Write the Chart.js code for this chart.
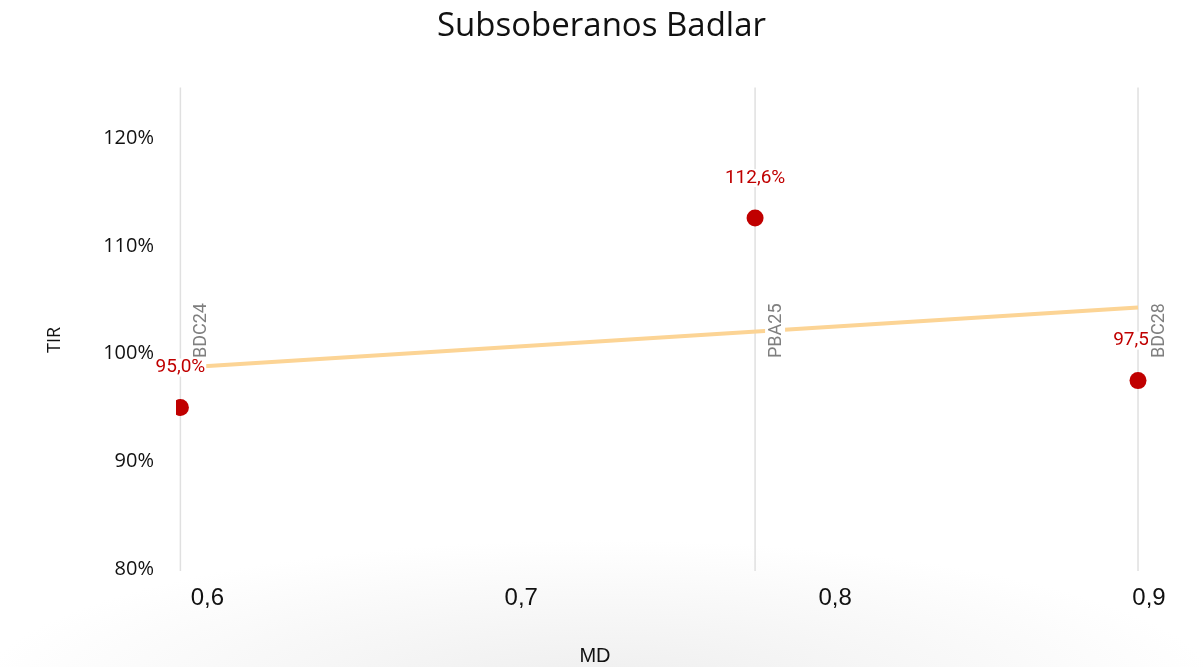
<!DOCTYPE html>
<html>
<head>
<meta charset="utf-8">
<title>Subsoberanos Badlar</title>
<script src="https://cdn.jsdelivr.net/npm/chart.js@4.4.1/dist/chart.umd.min.js"></script>
<style>
    html, body { margin: 0; padding: 0; }
    body {
        width: 1203px;
        height: 667px;
        background: radial-gradient(ellipse 620px 150px at 600px 690px, #eeeeee 0%, #ffffff 100%);
    }
    #wrap { width: 1203px; height: 667px; position: relative; }
</style>
</head>
<body>
<div id="wrap"><canvas id="scatterChart"></canvas></div>
<script>
// ============================================
// DATA
// ============================================
const bondNames = ['BDC24', 'PBA25', 'BDC28'];
const mdValues = [0.5914, 0.7745, 0.8965];
const tirValues = [0.950, 1.126, 0.975];

// trendline ends
const trendMd = [0.5914, 0.8965];
const trendTir = [0.987, 1.043];

const xTickValues = [0.6, 0.7, 0.8, 0.9];
const yTickValues = [0.8, 0.9, 1.0, 1.1, 1.2];

const RED = '#c00000';
const GREY_TEXT = '#7f7f7f';

function pct(v) {
    return (v * 100).toFixed(1).replace('.', ',') + '%';
}

// ============================================
// PLUGIN - vertical bond lines, labels, axis titles
// ============================================
const bondLinesPlugin = {
    id: 'bondLines',
    beforeDatasetsDraw(chart) {
        const { ctx, chartArea, scales: { x } } = chart;
        ctx.save();
        ctx.strokeStyle = '#e0e0e0';
        ctx.lineWidth = 1.5;
        mdValues.forEach(md => {
            const px = x.getPixelForValue(md);
            ctx.beginPath();
            ctx.moveTo(px, chartArea.top + 3);
            ctx.lineTo(px, chartArea.bottom + 2);
            ctx.stroke();
        });
        ctx.restore();
    },
    afterDatasetsDraw(chart) {
        const { ctx, scales: { x, y } } = chart;
        ctx.save();

        // value labels above the points
        ctx.font = '19px Roboto';
        ctx.textAlign = 'center';
        ctx.textBaseline = 'middle';
        tirValues.forEach((v, i) => {
            const px = x.getPixelForValue(mdValues[i]);
            const py = y.getPixelForValue(v) - 40;
            const txt = pct(v);
            const w = ctx.measureText(txt).width;
            ctx.fillStyle = '#ffffff';
            ctx.fillRect(px - w / 2 - 1, py - 9, w + 2, 18);
            ctx.fillStyle = RED;
            ctx.fillText(txt, px, py);
        });

        // bond names, rotated, next to each line
        ctx.font = '18px Roboto';
        ctx.textAlign = 'left';
        bondNames.forEach((name, i) => {
            const px = x.getPixelForValue(mdValues[i]) + 20;
            const py = y.getPixelForValue(0.996);
            const w = ctx.measureText(name).width;
            ctx.save();
            ctx.translate(px, py);
            ctx.rotate(-Math.PI / 2);
            ctx.fillStyle = '#ffffff';
            ctx.fillRect(-1, -10, w + 2, 20);
            ctx.fillStyle = GREY_TEXT;
            ctx.fillText(name, 0, 1);
            ctx.restore();
        });

        // axis titles
        ctx.fillStyle = '#111111';
        ctx.textAlign = 'center';
        ctx.font = '18px "Open Sans"';
        ctx.save();
        ctx.translate(55, 340);
        ctx.rotate(-Math.PI / 2);
        ctx.fillText('TIR', 0, 0);
        ctx.restore();

        ctx.font = '20px "Liberation Sans", Arial';
        ctx.fillText('MD', 595, 656);

        ctx.restore();
    }
};

// ============================================
// CHART
// ============================================
const ctx = document.getElementById('scatterChart');

new Chart(ctx, {
    type: 'scatter',
    data: {
        datasets: [
            {
                label: 'Bonos',
                data: mdValues.map((md, i) => ({ x: md, y: tirValues[i] })),
                backgroundColor: RED,
                borderColor: RED,
                borderWidth: 0,
                pointRadius: 8.5,
                pointHoverRadius: 8.5,
                order: 1
            },
            {
                label: 'Tendencia',
                type: 'line',
                data: trendMd.map((md, i) => ({ x: md, y: trendTir[i] })),
                borderColor: '#fcd495',
                borderWidth: 4,
                pointRadius: 0,
                fill: false,
                order: 2
            }
        ]
    },
    plugins: [bondLinesPlugin],
    options: {
        responsive: true,
        maintainAspectRatio: false,
        animation: false,
        events: [],
        layout: { padding: 0 },
        plugins: {
            legend: { display: false },
            tooltip: { enabled: false },
            title: {
                display: true,
                text: 'Subsoberanos Badlar',
                color: '#111111',
                font: { family: '"Open Sans"', size: 33, weight: 'normal' },
                padding: { top: 7, bottom: 38 }
            }
        },
        scales: {
            x: {
                type: 'linear',
                min: 0.59,
                max: 0.9145,
                grid: { display: false, drawTicks: false },
                border: { display: false },
                afterBuildTicks: scale => {
                    scale.ticks = xTickValues.map(v => ({ value: v }));
                },
                afterFit: scale => { scale.height = 98; },
                ticks: {
                    padding: 15,
                    maxRotation: 0,
                    color: '#111111',
                    font: { family: '"Liberation Sans", Arial', size: 24 },
                    callback: v => v.toFixed(1).replace('.', ',')
                }
            },
            y: {
                type: 'linear',
                min: 0.8,
                max: 1.25,
                grid: { display: false, drawTicks: false },
                border: { display: false },
                afterBuildTicks: scale => {
                    scale.ticks = yTickValues.map(v => ({ value: v }));
                },
                afterFit: scale => { scale.width = 176; },
                ticks: {
                    padding: 22,
                    color: '#111111',
                    font: { family: '"Open Sans"', size: 20 },
                    callback: v => Math.round(v * 100) + '%'
                }
            }
        }
    }
});
</script>
</body>
</html>
